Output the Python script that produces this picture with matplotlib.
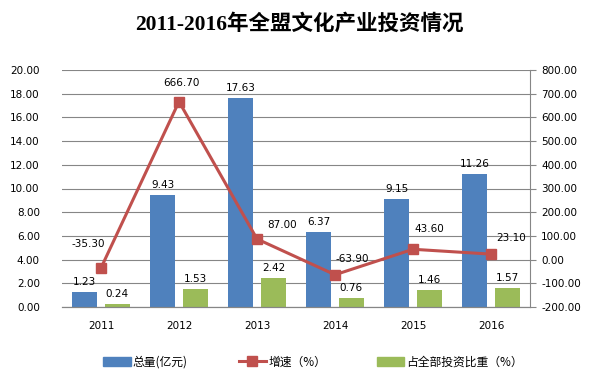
import matplotlib.pyplot as plt
import numpy as np
from matplotlib.patches import Patch
from matplotlib.lines import Line2D

years = ['2011', '2012', '2013', '2014', '2015', '2016']
total = [1.23, 9.43, 17.63, 6.37, 9.15, 11.26]
growth = [-35.30, 666.70, 87.00, -63.90, 43.60, 23.10]
share = [0.24, 1.53, 2.42, 0.76, 1.46, 1.57]

# pixel offsets of the growth labels from their markers
growth_offsets = [(-13, 24), (2, 19), (25, 14), (17, 16), (16, 20), (20, 16)]

blue = '#4F81BD'
red = '#C0504D'
green = '#9BBB59'
grid = '#868686'

plt.rcParams['font.family'] = ['DejaVu Sans', 'Noto Sans CJK SC']

fig = plt.figure(figsize=(6.14, 3.79), dpi=100)
ax = fig.add_axes([62 / 614, 72 / 379, 468 / 614, 237 / 379])
ax2 = ax.twinx()

x = np.arange(len(years))
w = 0.33
ax.bar(x - 0.21, total, w, color=blue, zorder=2)
ax.bar(x + 0.21, share, w, color=green, zorder=2)

for xi, v in zip(x, total):
    ax.annotate(f'{v:.2f}', (xi - 0.21, v), xytext=(0, 5), textcoords='offset pixels',
                ha='center', va='bottom', fontsize=7.5)
for xi, v in zip(x, share):
    ax.annotate(f'{v:.2f}', (xi + 0.21, v), xytext=(0, 5), textcoords='offset pixels',
                ha='center', va='bottom', fontsize=7.5)

ax2.plot(x, growth, color=red, lw=2.2, marker='s', ms=6.5, zorder=3)
for xi, v, off in zip(x, growth, growth_offsets):
    ax2.annotate(f'{v:.2f}', (xi, v), xytext=off, textcoords='offset pixels',
                 ha='center', va='center', fontsize=7.5)

ax.set_xlim(-0.5, len(years) - 0.5)
ax.set_ylim(0, 20)
ax.set_yticks(np.arange(0, 21, 2))
ax.set_yticklabels([f'{t:.2f}' for t in np.arange(0, 21, 2)])
ax2.set_ylim(-200, 800)
ax2.set_yticks(np.arange(-200, 801, 100))
ax2.set_yticklabels([f'{t:.2f}' for t in np.arange(-200, 801, 100)])
ax.set_xticks(x)
ax.set_xticklabels(years)

ax.yaxis.grid(True, color=grid, lw=0.8, zorder=0)
ax.set_axisbelow(True)
for a in (ax, ax2):
    a.spines['top'].set_visible(False)
    a.spines['left'].set_visible(False)
    a.spines['bottom'].set_color(grid)
ax2.spines['right'].set_color(grid)
ax.spines['right'].set_visible(False)
ax.tick_params(axis='y', length=0, labelsize=7.5, pad=16)
ax.tick_params(axis='x', length=0, labelsize=7.5, pad=10)
ax2.tick_params(axis='y', length=4, color=grid, labelsize=7.5, pad=4)

fig.text(299 / 614, 1 - 24.5 / 379, '2011-2016年全盟文化产业投资情况', ha='center', va='center',
         fontsize=15.5, fontweight='bold', family=['Liberation Serif', 'Noto Sans CJK SC'])

handles = [Patch(color=blue), Line2D([], [], color=red, lw=2.2, marker='s', ms=6.5),
           Patch(color=green)]
labels = ['总量(亿元)', '增速（%）', '占全部投资比重（%）']
fig.legend(handles, labels, loc='center', bbox_to_anchor=(0.51, 17 / 379), ncol=3,
           frameon=False, handlelength=2.3, handletextpad=0.2, columnspacing=4.3,
           prop={'family': ['Noto Sans CJK SC'], 'size': 8.5})

fig.savefig('out.png', dpi=100)
